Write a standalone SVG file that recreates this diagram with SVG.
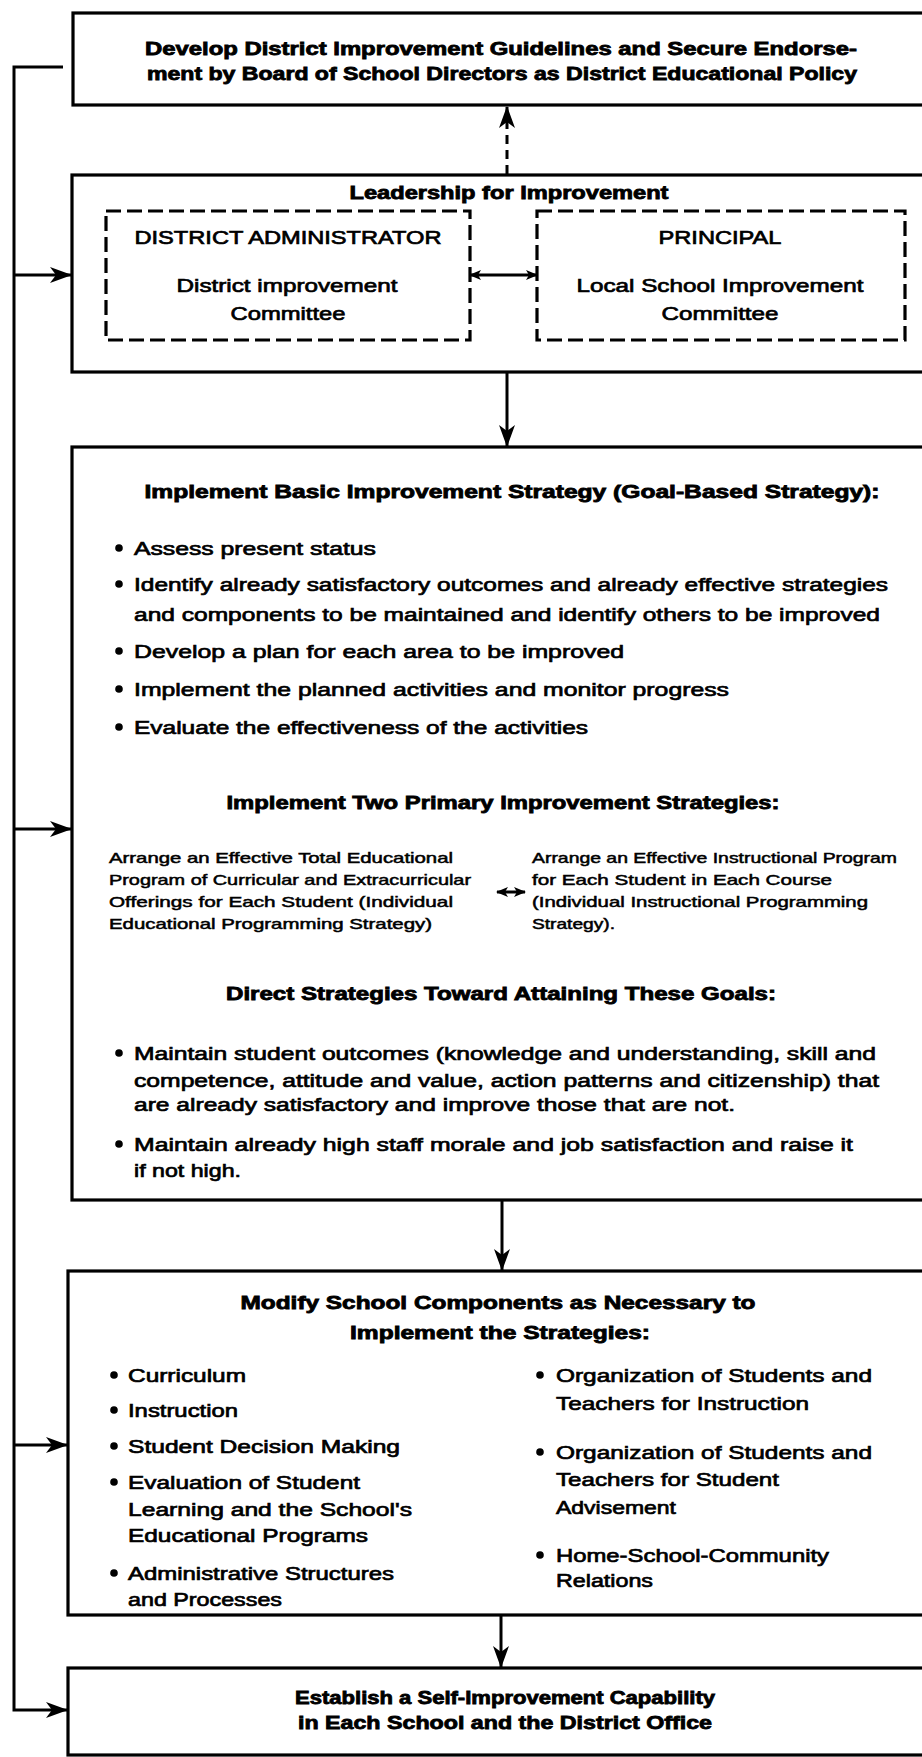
<svg xmlns="http://www.w3.org/2000/svg" width="922" height="1757" viewBox="0 0 922 1757">
<defs>
<style>
.box{fill:#fff;stroke:#000;stroke-width:3.2}
.dbox{fill:none;stroke:#000;stroke-width:3.2;stroke-dasharray:15 6}
.con{fill:none;stroke:#000;stroke-width:3}
.h{font-family:"Liberation Sans",Arial,sans-serif;font-weight:bold;font-size:18px;fill:#000;stroke:#000;stroke-width:0.8}
.t{font-family:"Liberation Sans",Arial,sans-serif;font-size:19px;fill:#000;stroke:#000;stroke-width:0.7}
.s{font-family:"Liberation Sans",Arial,sans-serif;font-size:14.5px;fill:#000;stroke:#000;stroke-width:0.5}
.c{text-anchor:middle}
</style>
<marker id="ah" viewBox="0 0 22 16" refX="21" refY="8" markerWidth="22" markerHeight="16" orient="auto-start-reverse" markerUnits="userSpaceOnUse"><path d="M0,0 L22,8 L0,16 L6,8 z" fill="#000"/></marker>
<marker id="sm" viewBox="0 0 12 10" refX="11" refY="5" markerWidth="12" markerHeight="10" orient="auto-start-reverse" markerUnits="userSpaceOnUse"><path d="M0,0 L12,5 L0,10 L3,5 z" fill="#000"/></marker>
</defs>
<rect x="0" y="0" width="922" height="1757" fill="#fff"/>

<g id="n1">
<rect class="box" x="73" y="13" width="870" height="92"/>
<text class="h c" x="501" y="55" textLength="712" lengthAdjust="spacingAndGlyphs">Develop District Improvement Guidelines and Secure Endorse-</text>
<text class="h c" x="502" y="80" textLength="710" lengthAdjust="spacingAndGlyphs">ment by Board of School Directors as District Educational Policy</text>
</g>

<g id="n2">
<rect class="box" x="72" y="175" width="870" height="197"/>
<text class="h c" x="509" y="199" textLength="319" lengthAdjust="spacingAndGlyphs">Leadership for Improvement</text>
<g id="n2a">
<rect class="dbox" x="106" y="211" width="364" height="129"/>
<text class="t c" x="288" y="244" textLength="307" lengthAdjust="spacingAndGlyphs">DISTRICT ADMINISTRATOR</text>
<text class="t c" x="287" y="292" textLength="221" lengthAdjust="spacingAndGlyphs">District improvement</text>
<text class="t c" x="288" y="320" textLength="115" lengthAdjust="spacingAndGlyphs">Committee</text>
</g>
<g id="n2b">
<rect class="dbox" x="537" y="211" width="368" height="129"/>
<text class="t c" x="720" y="244" textLength="123" lengthAdjust="spacingAndGlyphs">PRINCIPAL</text>
<text class="t c" x="720" y="292" textLength="287" lengthAdjust="spacingAndGlyphs">Local School Improvement</text>
<text class="t c" x="720" y="320" textLength="117" lengthAdjust="spacingAndGlyphs">Committee</text>
</g>
</g>

<g id="n3">
<rect class="box" x="72" y="447" width="870" height="753"/>
<text class="h c" x="512" y="498" textLength="735" lengthAdjust="spacingAndGlyphs">Implement Basic Improvement Strategy (Goal-Based Strategy):</text>
<g>
<circle cx="119" cy="548" r="3.8"/><text class="t" x="134" y="555" textLength="242" lengthAdjust="spacingAndGlyphs">Assess present status</text>
<circle cx="119" cy="584" r="3.8"/><text class="t" x="134" y="591" textLength="754" lengthAdjust="spacingAndGlyphs">Identify already satisfactory outcomes and already effective strategies</text>
<text class="t" x="134" y="621" textLength="746" lengthAdjust="spacingAndGlyphs">and components to be maintained and identify others to be improved</text>
<circle cx="119" cy="651" r="3.8"/><text class="t" x="134" y="658" textLength="490" lengthAdjust="spacingAndGlyphs">Develop a plan for each area to be improved</text>
<circle cx="119" cy="689" r="3.8"/><text class="t" x="134" y="696" textLength="595" lengthAdjust="spacingAndGlyphs">Implement the planned activities and monitor progress</text>
<circle cx="119" cy="727" r="3.8"/><text class="t" x="134" y="734" textLength="454" lengthAdjust="spacingAndGlyphs">Evaluate the effectiveness of the activities</text>
</g>
<text class="h c" x="503" y="809" textLength="553" lengthAdjust="spacingAndGlyphs">Implement Two Primary Improvement Strategies:</text>
<g>
<text class="s" x="109" y="863" textLength="344" lengthAdjust="spacingAndGlyphs">Arrange an Effective Total Educational</text>
<text class="s" x="109" y="885" textLength="362" lengthAdjust="spacingAndGlyphs">Program of Curricular and Extracurricular</text>
<text class="s" x="109" y="907" textLength="344" lengthAdjust="spacingAndGlyphs">Offerings for Each Student (Individual</text>
<text class="s" x="109" y="929" textLength="323" lengthAdjust="spacingAndGlyphs">Educational Programming Strategy)</text>
<text class="s" x="532" y="863" textLength="365" lengthAdjust="spacingAndGlyphs">Arrange an Effective Instructional Program</text>
<text class="s" x="532" y="885" textLength="300" lengthAdjust="spacingAndGlyphs">for Each Student in Each Course</text>
<text class="s" x="532" y="907" textLength="336" lengthAdjust="spacingAndGlyphs">(Individual Instructional Programming</text>
<text class="s" x="532" y="929" textLength="83" lengthAdjust="spacingAndGlyphs">Strategy).</text>
</g>
<text class="h c" x="501" y="1000" textLength="550" lengthAdjust="spacingAndGlyphs">Direct Strategies Toward Attaining These Goals:</text>
<g>
<circle cx="119" cy="1053" r="3.8"/><text class="t" x="134" y="1060" textLength="742" lengthAdjust="spacingAndGlyphs">Maintain student outcomes (knowledge and understanding, skill and</text>
<text class="t" x="134" y="1087" textLength="745" lengthAdjust="spacingAndGlyphs">competence, attitude and value, action patterns and citizenship) that</text>
<text class="t" x="134" y="1111" textLength="601" lengthAdjust="spacingAndGlyphs">are already satisfactory and improve those that are not.</text>
<circle cx="119" cy="1144" r="3.8"/><text class="t" x="134" y="1151" textLength="719" lengthAdjust="spacingAndGlyphs">Maintain already high staff morale and job satisfaction and raise it</text>
<text class="t" x="134" y="1177" textLength="107" lengthAdjust="spacingAndGlyphs">if not high.</text>
</g>
</g>

<g id="n4">
<rect class="box" x="68" y="1271" width="874" height="344"/>
<text class="h c" x="498" y="1309" textLength="515" lengthAdjust="spacingAndGlyphs">Modify School Components as Necessary to</text>
<text class="h c" x="500" y="1339" textLength="300" lengthAdjust="spacingAndGlyphs">Implement the Strategies:</text>
<g>
<circle cx="114" cy="1375" r="3.8"/><text class="t" x="128" y="1382" textLength="118" lengthAdjust="spacingAndGlyphs">Curriculum</text>
<circle cx="114" cy="1410" r="3.8"/><text class="t" x="128" y="1417" textLength="110" lengthAdjust="spacingAndGlyphs">Instruction</text>
<circle cx="114" cy="1446" r="3.8"/><text class="t" x="128" y="1453" textLength="272" lengthAdjust="spacingAndGlyphs">Student Decision Making</text>
<circle cx="114" cy="1482" r="3.8"/><text class="t" x="128" y="1489" textLength="232" lengthAdjust="spacingAndGlyphs">Evaluation of Student</text>
<text class="t" x="128" y="1516" textLength="284" lengthAdjust="spacingAndGlyphs">Learning and the School's</text>
<text class="t" x="128" y="1542" textLength="240" lengthAdjust="spacingAndGlyphs">Educational Programs</text>
<circle cx="114" cy="1573" r="3.8"/><text class="t" x="128" y="1580" textLength="266" lengthAdjust="spacingAndGlyphs">Administrative Structures</text>
<text class="t" x="128" y="1606" textLength="154" lengthAdjust="spacingAndGlyphs">and Processes</text>
</g>
<g>
<circle cx="540" cy="1375" r="3.8"/><text class="t" x="556" y="1382" textLength="316" lengthAdjust="spacingAndGlyphs">Organization of Students and</text>
<text class="t" x="556" y="1410" textLength="253" lengthAdjust="spacingAndGlyphs">Teachers for Instruction</text>
<circle cx="540" cy="1452" r="3.8"/><text class="t" x="556" y="1459" textLength="316" lengthAdjust="spacingAndGlyphs">Organization of Students and</text>
<text class="t" x="556" y="1486" textLength="223" lengthAdjust="spacingAndGlyphs">Teachers for Student</text>
<text class="t" x="556" y="1514" textLength="120" lengthAdjust="spacingAndGlyphs">Advisement</text>
<circle cx="540" cy="1555" r="3.8"/><text class="t" x="556" y="1562" textLength="273" lengthAdjust="spacingAndGlyphs">Home-School-Community</text>
<text class="t" x="556" y="1587" textLength="97" lengthAdjust="spacingAndGlyphs">Relations</text>
</g>
</g>

<g id="n5">
<rect class="box" x="68" y="1668" width="874" height="87"/>
<text class="h c" x="505" y="1704" textLength="420" lengthAdjust="spacingAndGlyphs">Establish a Self-Improvement Capability</text>
<text class="h c" x="505" y="1729" textLength="414" lengthAdjust="spacingAndGlyphs">in Each School and the District Office</text>
</g>

<g id="connectors">
<path class="con" d="M507,174 L507,107" stroke-dasharray="9 6" marker-end="url(#ah)"/>
<path class="con" d="M470,275 L537,275" marker-start="url(#sm)" marker-end="url(#sm)"/>
<path class="con" d="M507,372 L507,446" marker-end="url(#ah)"/>
<path class="con" d="M497,892 L525,892" stroke-width="2.5" marker-start="url(#sm)" marker-end="url(#sm)"/>
<path class="con" d="M502,1200 L502,1270" marker-end="url(#ah)"/>
<path class="con" d="M501,1615 L501,1667" marker-end="url(#ah)"/>
<path class="con" d="M63,67 L14,67 L14,1710 L67,1710" marker-end="url(#ah)"/>
<path class="con" d="M14,275 L71,275" marker-end="url(#ah)"/>
<path class="con" d="M14,829 L71,829" marker-end="url(#ah)"/>
<path class="con" d="M14,1445 L67,1445" marker-end="url(#ah)"/>
</g>
</svg>
